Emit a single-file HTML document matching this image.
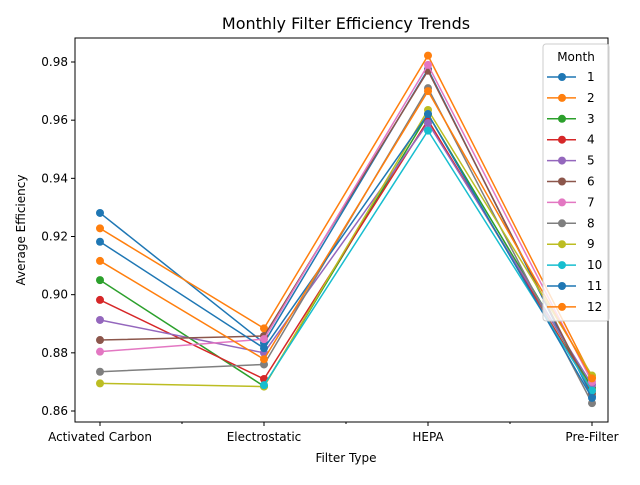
<!DOCTYPE html>
<html><head><meta charset="utf-8"><style>
body{margin:0;background:#fff;font-family:"Liberation Sans","DejaVu Sans",sans-serif}
svg text{font-family:"DejaVu Sans","Liberation Sans",sans-serif}
</style></head><body>
<svg id="chart" width="640" height="480" xmlns="http://www.w3.org/2000/svg">
<rect width="640" height="480" fill="#fff"/>
<text x="346" y="29" font-size="16" text-anchor="middle">Monthly Filter Efficiency Trends</text>
<g id="grid"></g>
<g id="series"></g>
<rect x="75" y="38" width="533" height="384" fill="none" stroke="#000" stroke-width="1"/>
<text x="346" y="462" font-size="12" text-anchor="middle">Filter Type</text>
<text transform="translate(25,230) rotate(-90)" font-size="12" text-anchor="middle">Average Efficiency</text>
<g id="legend"></g>
</svg>
<script>
const categories=["Activated Carbon","Electrostatic","HEPA","Pre-Filter"];
const months=["1","2","3","4","5","6","7","8","9","10","11","12"];
const m1=[0.9281,0.8834,0.9775,0.8650];
const m2=[0.9228,0.8884,0.9822,0.8715];
const m3=[0.9050,0.8685,0.9620,0.8680];
const m4=[0.8982,0.8710,0.9600,0.8670];
const m5=[0.8913,0.8800,0.9590,0.8690];
const m6=[0.8844,0.8858,0.9770,0.8660];
const m7=[0.8804,0.8847,0.9790,0.8700];
const m8=[0.8735,0.8760,0.9710,0.8627];
const m9=[0.8695,0.8684,0.9635,0.8722];
const m10=[null,0.8689,0.9564,0.8670];
const m11=[0.9182,0.8816,0.9621,0.8645];
const m12=[0.9116,0.8778,0.9700,0.8712];
const seriesValues=[m1,m2,m3,m4,m5,m6,m7,m8,m9,m10,m11,m12];
const yTicks=[0.86,0.88,0.90,0.92,0.94,0.96,0.98];
const colors=["#1f77b4","#ff7f0e","#2ca02c","#d62728","#9467bd","#8c564b","#e377c2","#7f7f7f","#bcbd22","#17becf","#1f77b4","#ff7f0e"];
const NS="http://www.w3.org/2000/svg";
function xs(i){return 100+i*164;}
function ys(v){return 411-(v-0.86)*2908.33;}
function mk(t,a,p){const e=document.createElementNS(NS,t);for(const k in a)e.setAttribute(k,a[k]);p.appendChild(e);return e;}
const grid=document.getElementById('grid'),ser=document.getElementById('series'),leg=document.getElementById('legend');
yTicks.forEach(v=>{const y=ys(v);
 const t=mk('line',{x1:71,x2:75,y1:y,y2:y,stroke:'#000'},grid);
 
 const l=mk('text',{x:68,y:y+4,'font-size':12,'text-anchor':'end'},grid);l.textContent=v.toFixed(2);
 });
categories.forEach((c,i)=>{const x=xs(i);
 const t=mk('line',{x1:x,x2:x,y1:422,y2:426,stroke:'#000'},grid);
 
 const l=mk('text',{x:x,y:441,'font-size':12,'text-anchor':'middle'},grid);l.textContent=c;
 
 if(i<categories.length-1){const m=mk('line',{x1:x+82,x2:x+82,y1:422,y2:424,stroke:'#000'},grid);
 }});
seriesValues.forEach((vals,s)=>{const g=mk('g',{},ser);
 
 const pts=[];vals.forEach((v,i)=>{if(v!==null)pts.push([xs(i),ys(v)]);});
 const pl=mk('polyline',{points:pts.map(p=>p.join(',')).join(' '),fill:'none',stroke:colors[s],'stroke-width':1.5},g);
 
 pts.forEach(p=>{const c=mk('circle',{cx:p[0],cy:p[1],r:4,fill:colors[s]},g);
 });});
mk('rect',{x:543,y:44,width:66,height:277,rx:3,fill:'#fff','fill-opacity':0.8,stroke:'#ccc'},leg);
const lt=mk('text',{x:576,y:61,'font-size':12,'text-anchor':'middle'},leg);lt.textContent='Month';

months.forEach((m,s)=>{const y=77+s*20.9;const g=mk('g',{},leg);
 
 mk('line',{x1:547,x2:576,y1:y,y2:y,stroke:colors[s],'stroke-width':1.5},g);
 mk('circle',{cx:562,cy:y,r:4,fill:colors[s]},g);
 const t=mk('text',{x:587,y:y+4,'font-size':12},g);t.textContent=m;});
</script>
</body></html>
